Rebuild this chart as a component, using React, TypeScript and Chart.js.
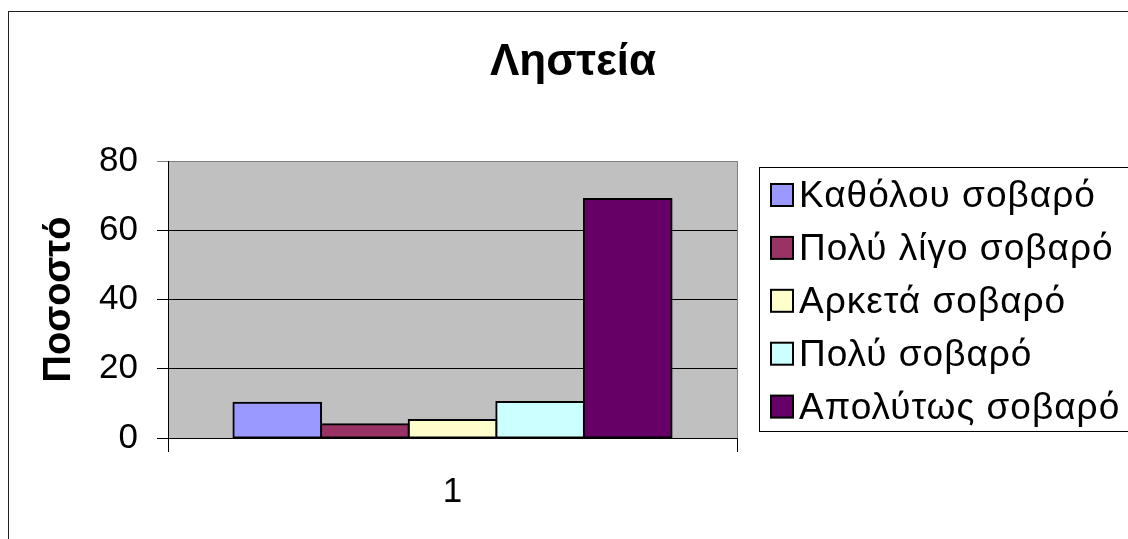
import React, { useEffect, useRef } from "react";
import { Chart, registerables } from "chart.js";

Chart.register(...registerables);

const chartTitle = "Ληστεία";
const yAxisTitle = "Ποσοστό";
const categories = ["1"];
const seriesNames = [
  "Καθόλου σοβαρό",
  "Πολύ λίγο σοβαρό",
  "Αρκετά σοβαρό",
  "Πολύ σοβαρό",
  "Απολύτως σοβαρό",
];
const seriesValues = [10.2, 4.0, 5.2, 10.4, 69.0];
const seriesColors = ["#9999FF", "#993366", "#FFFFCC", "#CCFFFF", "#660066"];
const yTicks = [0, 20, 40, 60, 80];

const FONT = '"Liberation Sans", Arial, sans-serif';

const framePlugin = {
  id: "frameAndBg",
  beforeDraw(chart: any) {
    const { ctx, chartArea } = chart;
    ctx.save();
    ctx.fillStyle = "#ffffff";
    ctx.fillRect(0, 0, chart.width, chart.height);
    ctx.strokeStyle = "#222222";
    ctx.lineWidth = 1;
    ctx.strokeRect(8.5, 11.5, chart.width + 20, chart.height + 20);
    ctx.fillStyle = "#C0C0C0";
    ctx.fillRect(
      chartArea.left,
      chartArea.top,
      chartArea.right - chartArea.left,
      chartArea.bottom - chartArea.top
    );
    ctx.restore();
  },
  afterDraw(chart: any) {
    const { ctx } = chart;
    ctx.save();
    // title
    ctx.fillStyle = "#000";
    ctx.font = `bold 44px ${FONT}`;
    ctx.textAlign = "center";
    ctx.textBaseline = "alphabetic";
    ctx.fillText(chartTitle, 573, 75);
    // legend box
    ctx.strokeStyle = "#000";
    ctx.lineWidth = 1;
    ctx.strokeRect(759.5, 167.5, chart.width, 264);
    ctx.font = `37px ${FONT}`;
    (ctx as any).letterSpacing = "1px";
    ctx.textAlign = "left";
    chart.data.datasets.forEach((ds: any, i: number) => {
      const y = 184 + i * 52.9;
      ctx.fillStyle = ds.backgroundColor;
      ctx.fillRect(771, y, 22, 22);
      ctx.strokeStyle = "#000";
      ctx.lineWidth = 2;
      ctx.strokeRect(771, y, 22, 22);
      ctx.fillStyle = "#000";
      ctx.fillText(ds.label, 799, y + 23);
    });
    (ctx as any).letterSpacing = "0px";
    ctx.restore();
  },
};

export default function App() {
  const ref = useRef<HTMLCanvasElement | null>(null);

  useEffect(() => {
    document.body.style.overflow = "hidden";
    document.documentElement.style.overflow = "hidden";
    if (!ref.current) return;
    Chart.defaults.font.family = FONT;
    const chart = new Chart(ref.current, {
      type: "bar",
      data: {
        labels: categories,
        datasets: seriesNames.map((name, i) => ({
          label: name,
          data: [seriesValues[i]],
          backgroundColor: seriesColors[i],
          borderColor: "#000000",
          borderWidth: 2,
          borderSkipped: false,
          inflateAmount: 1,
          categoryPercentage: 0.77,
          barPercentage: 1.0,
        })),
      },
      options: {
        responsive: false,
        animation: false,
        devicePixelRatio: 1,
        layout: { padding: { left: 0, top: 161, right: 391, bottom: 0 } },
        plugins: {
          legend: { display: false },
          title: { display: false },
          tooltip: { enabled: false },
        },
        scales: {
          x: {
            afterFit: (scale: any) => {
              scale.height = 101;
            },
            grid: {
              color: "#808080",
              tickColor: "#000000",
              tickLength: 14,
              drawOnChartArea: true,
            },
            border: { color: "#000000", width: 1 },
            ticks: {
              color: "#000",
              font: { size: 35, family: FONT },
              padding: 19,
            },
          },
          y: {
            min: 0,
            max: 80,
            afterFit: (scale: any) => {
              scale.width = 168;
            },
            afterBuildTicks: (scale: any) => {
              scale.ticks = yTicks.map((v) => ({ value: v }));
            },
            grid: {
              color: (c: any) =>
                c.tick && c.tick.value === 80 ? "#808080" : "#000000",
              tickColor: (c: any) =>
                c.tick && c.tick.value === 80 ? "#808080" : "#000000",
              tickLength: 11,
            },
            border: { color: "#000000", width: 1 },
            ticks: {
              color: "#000",
              font: { size: 35, family: FONT },
              padding: 19,
            },
            title: {
              display: true,
              text: yAxisTitle,
              color: "#000",
              font: { size: 38, weight: "bold", family: FONT },
              padding: { top: 37, bottom: 0 },
            },
          },
        },
      },
      plugins: [framePlugin],
    });
    return () => chart.destroy();
  }, []);

  return (
    <div style={{ position: "fixed", left: 0, top: 0, width: 1128, height: 539 }}>
      <canvas ref={ref} width={1128} height={539} style={{ display: "block" }} />
    </div>
  );
}
